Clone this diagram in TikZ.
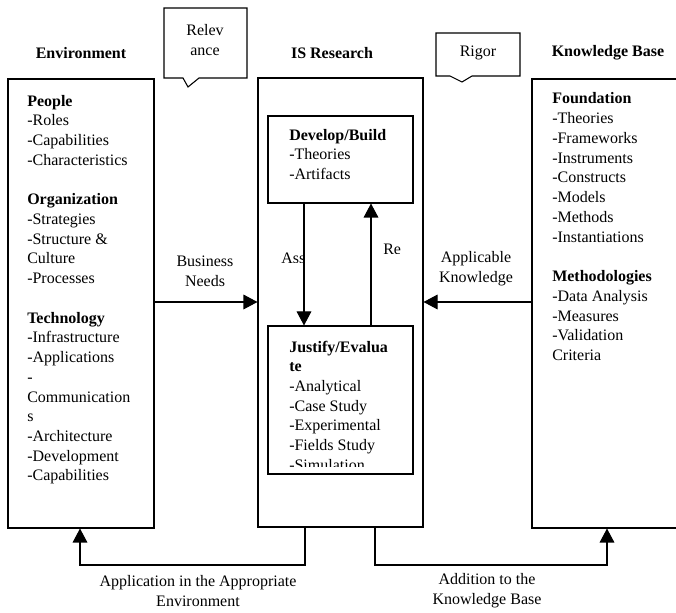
\documentclass[tikz,border=0pt]{standalone}
\usepackage{fontspec}
\setmainfont{Liberation Serif}
\usetikzlibrary{arrows.meta,fit}
\begin{document}
\begin{tikzpicture}[x=0.75pt,y=-0.75pt,
  box/.style={draw,line width=0.8pt,inner sep=0pt},
  txt/.style={font=\fontsize{12}{14.8}\selectfont,inner sep=0pt,align=left,anchor=base west},
  ctxt/.style={font=\fontsize{12}{14.8}\selectfont,inner sep=0pt,align=center},
  hdr/.style={font=\fontsize{12}{14.8}\selectfont\bfseries,inner sep=0pt},
  arr/.style={line width=0.8pt,-{Triangle[length=10.5pt,width=11pt]}},
  ln/.style={line width=0.8pt}]
\useasboundingbox (0,0) rectangle (676,613);

% headers
\node[hdr] (henv) at (81,53) {Environment};
\node[hdr] (hisr) at (332,53) {IS Research};
\node[hdr] (hkb) at (608,53) {Knowledge Base};

% main boxes
\node[box,fit={(8,79) (154,528)}] (env) {};
\node[box,fit={(258,78) (423,527)}] (isr) {};
\node[box,fit={(532,79) (690,528)}] (kb) {};
\node[box,fit={(268,116) (413,203)}] (dev) {};
\node[box,fit={(268,326) (413,474)}] (just) {};

% callouts
\draw[ln] (164,8) -- (247,8) -- (247,78) -- (199,78) -- (188,87) -- (183,78) -- (164,78) -- cycle;
\node[ctxt] (rel) at (205,40) {Relev\\ance};
\draw[ln] (436,33) -- (520,33) -- (520,76) -- (472,76) -- (462,82) -- (450,76) -- (436,76) -- cycle;
\node[ctxt] (rig) at (478,53) {Rigor};

% environment text (anchor = baseline of last line)
\node[txt] (envtxt) at (27,481) {\textbf{People}\\-Roles\\-Capabilities\\-Characteristics\\[14.8pt]
\textbf{Organization}\\-Strategies\\-Structure \&\\Culture\\-Processes\\[14.8pt]
\textbf{Technology}\\-Infrastructure\\-Applications\\-\\Communication\\s\\-Architecture\\-Development\\-Capabilities};

% knowledge base text
\node[txt] (kbtxt) at (552,360.5) {\textbf{Foundation}\\-Theories\\-Frameworks\\-Instruments\\-Constructs\\-Models\\-Methods\\-Instantiations\\[14.8pt]
\textbf{Methodologies}\\-Data Analysis\\-Measures\\-Validation\\Criteria};

% develop text
\node[txt] (devtxt) at (289,179.5) {\textbf{Develop/Build}\\-Theories\\-Artifacts};

% justify text (clipped)
\begin{scope}
\clip (269,327) rectangle (412,467);
\node[txt] (justxt) at (289,470.4) {\textbf{Justify/Evalua}\\\textbf{te}\\-Analytical\\-Case Study\\-Experimental\\-Fields Study\\-Simulation};
\end{scope}

% inner arrows
\coordinate (dnX) at (304,0);
\coordinate (upX) at (371,0);
\draw[arr] (dev.south -| dnX) -- (just.north -| dnX);
\draw[arr] (just.north -| upX) -- (dev.south -| upX);
\begin{scope}
\clip (270,240) rectangle (303,263);
\node[txt] (ass) at (281,264) {Assess};
\end{scope}
\begin{scope}
\clip (378,235) rectangle (400,254);
\node[txt] (re) at (383,255) {Refine};
\end{scope}

% side arrows
\coordinate (bnY) at (0,302);
\draw[arr] (env.east |- bnY) -- (isr.west |- bnY);
\node[ctxt] (bn) at (205,271) {Business\\Needs};
\draw[arr] (kb.west |- bnY) -- (isr.east |- bnY);
\node[ctxt] (ak) at (476,269) {Applicable\\Knowledge};

% bottom connectors
\coordinate (aL) at (80,565);
\coordinate (aR) at (305,565);
\coordinate (bL) at (375,565);
\coordinate (bR) at (607,565);
\draw[arr] (isr.south -| aR) -- (aR) -- (aL) -- (env.south -| aL);
\draw[arr] (isr.south -| bL) -- (bL) -- (bR) -- (kb.south -| bR);
\node[ctxt] (app) at (198,591) {Application in the Appropriate\\Environment};
\node[ctxt] (add) at (487,591) {Addition to the\\Knowledge Base};
\end{tikzpicture}
\end{document}
